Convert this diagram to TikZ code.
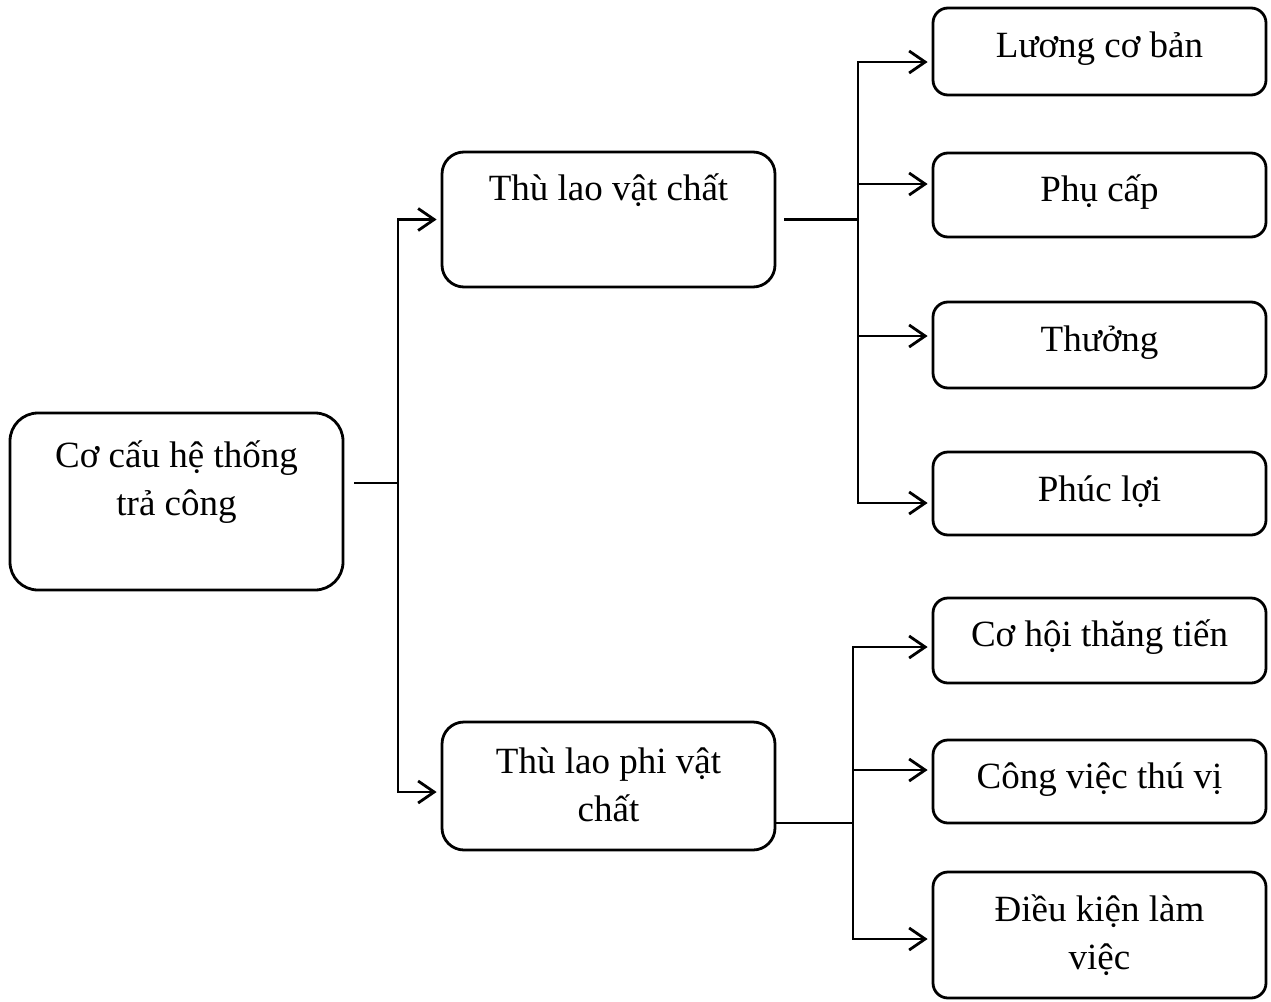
\documentclass[tikz,border=0pt]{standalone}
\usepackage{fontspec}
\setmainfont{Liberation Serif}
\usetikzlibrary{arrows.meta,positioning,calc}

\begin{document}
\begin{tikzpicture}[
  x=1pt, y=-1pt,
  box/.style={draw, line width=2.8pt, inner sep=0pt, minimum width=333pt},
  root/.style={box, rounded corners=28pt},
  mid/.style={box, rounded corners=22pt},
  leaf/.style={box, rounded corners=15pt},
  lbl/.style={font=\fontsize{37}{48}\selectfont, align=center,
              anchor=base, inner sep=0pt},
  link/.style={line width=2.8pt},
  arr/.style={link, -{Straight Barb[length=16pt,width=22pt]},
              shorten >=4pt},
]
\useasboundingbox (0,0) rectangle (1271,1001);

% Boxes
\node[root, minimum height=177pt] (root) at (176.5,501.5) {};
\node[mid,  minimum height=135pt] (vc)   at (608.5,219.5) {};
\node[mid,  minimum height=128pt] (pvc)  at (608.5,786)   {};

\node[leaf, minimum height=87pt]  (lcb)  at (1099.5,51.5)  {};
\node[leaf, minimum height=84pt]  (pc)   at (1099.5,195)   {};
\node[leaf, minimum height=86pt]  (th)   at (1099.5,345)   {};
\node[leaf, minimum height=83pt]  (pl)   at (1099.5,493.5) {};
\node[leaf, minimum height=85pt]  (chtt) at (1099.5,640.5) {};
\node[leaf, minimum height=83pt]  (cvtv) at (1099.5,781.5) {};
\node[leaf, minimum height=126pt] (dklv) at (1099.5,935)   {};

% Labels (base = last line)
\node[lbl] (root-t) at ($(root.north)+(0,104)$) {Cơ cấu hệ thống\\trả công};
\node[lbl] (vc-t)   at ($(vc.north)+(0,50)$)    {Thù lao vật chất};
\node[lbl] (pvc-t)  at ($(pvc.north)+(0,101)$)  {Thù lao phi vật\\chất};
\node[lbl] (lcb-t)  at ($(lcb.north)+(0,51)$)   {Lương cơ bản};
\node[lbl] (pc-t)   at ($(pc.north)+(0,50)$)    {Phụ cấp};
\node[lbl] (th-t)   at ($(th.north)+(0,51)$)    {Thưởng};
\node[lbl] (pl-t)   at ($(pl.north)+(0,51)$)    {Phúc lợi};
\node[lbl] (chtt-t) at ($(chtt.north)+(0,50)$)  {Cơ hội thăng tiến};
\node[lbl] (cvtv-t) at ($(cvtv.north)+(0,50)$)  {Công việc thú vị};
\node[lbl] (dklv-t) at ($(dklv.north)+(0,99)$)  {Điều kiện làm\\việc};

% Junctions
\coordinate (j0) at (398,483);
\coordinate (j1) at (858,219.5);
\coordinate (j2) at (853,823);

% Connectors
\draw[link] ($(root.east |- j0)+(10,0)$) -- (j0);
\draw[arr] (j0) |- (vc.west);
\draw[arr] (j0) |- ([yshift=-6pt]pvc.west);

\draw[link] ($(vc.east)+(8,0)$) -- (j1);
\draw[arr] (j1) |- ([yshift=-10.5pt]lcb.west);
\draw[arr] (j1) |- ([yshift=11pt]pc.west);
\draw[arr] (j1) |- ([yshift=9pt]th.west);
\draw[arr] (j1) |- ([yshift=-9.5pt]pl.west);

\draw[link] (pvc.east |- j2) -- (j2);
\draw[arr] (j2) |- ([yshift=-6.5pt]chtt.west);
\draw[arr] (j2) |- ([yshift=11.5pt]cvtv.west);
\draw[arr] (j2) |- ([yshift=-4pt]dklv.west);

\end{tikzpicture}
\end{document}
